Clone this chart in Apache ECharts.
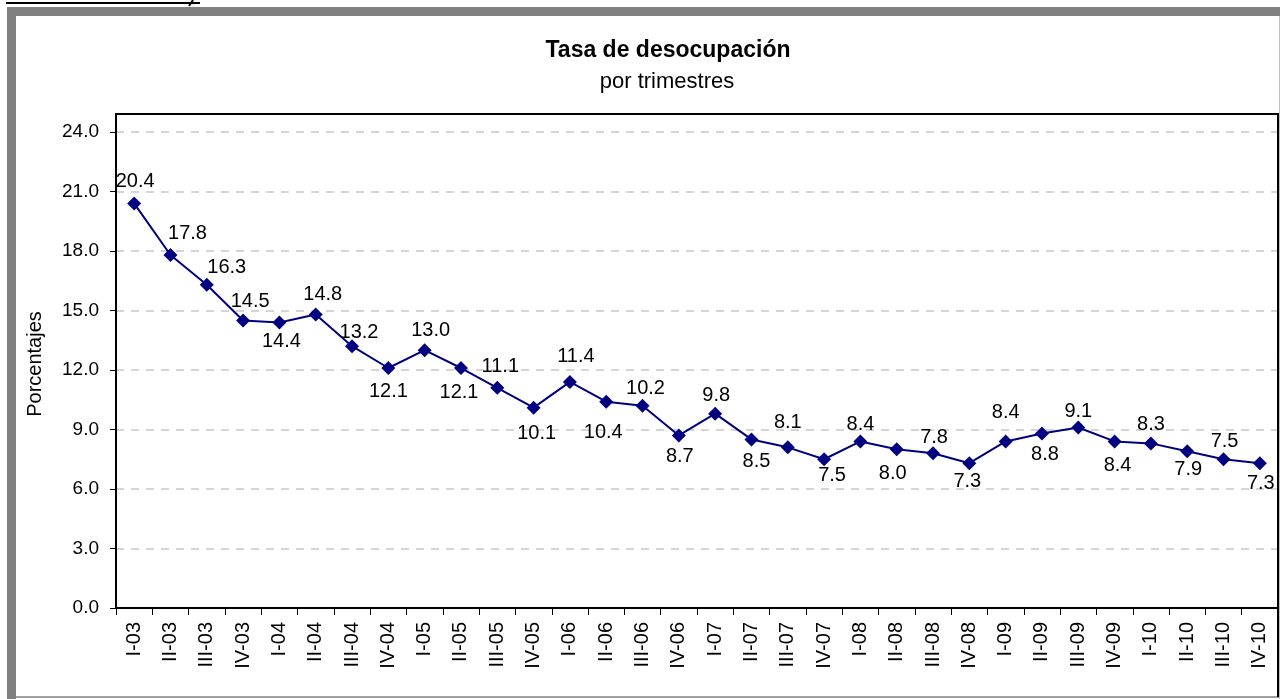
<!DOCTYPE html>
<html>
<head>
<meta charset="utf-8">
<script src="https://cdn.jsdelivr.net/npm/echarts@6/dist/echarts.min.js"></script>
<style>
html,body{margin:0;padding:0;background:#fff;}
#c{width:1280px;height:699px;}
</style>
</head>
<body>
<div id="c"></div>
<script>
var categories = ['I-03','II-03','III-03','IV-03','I-04','II-04','III-04','IV-04','I-05','II-05','III-05','IV-05','I-06','II-06','III-06','IV-06','I-07','II-07','III-07','IV-07','I-08','II-08','III-08','IV-08','I-09','II-09','III-09','IV-09','I-10','II-10','III-10','IV-10'];
var tasa = [20.4,17.8,16.3,14.5,14.4,14.8,13.2,12.1,13.0,12.1,11.1,10.1,11.4,10.4,10.2,8.7,9.8,8.5,8.1,7.5,8.4,8.0,7.8,7.3,8.4,8.8,9.1,8.4,8.3,7.9,7.5,7.3];
var yTicks = {min:0, max:24, interval:3};

// label placement (styling only): [dx, dy] of label centre from the marker
var labelOffsets = [[1,-22],[17,-21],[20,-17],[7,-19],[2,19],[7,-20],[7,-14],[0,23],[6,-20],[-2,24],[3,-21],[3,26],[6,-25],[-3,31],[3,-17],[1,21],[1,-18],[5,22],[0,-25],[8,16],[0,-17],[-4,24],[1,-16],[-2,18],[0,-29],[3,21],[0,-16],[3,24],[0,-19],[1,18],[1,-18],[1,20]];

var FONT = '"Liberation Sans", Arial, sans-serif';
var chart = echarts.init(document.getElementById('c'), null, {renderer:'canvas'});

var seriesData = tasa.map(function(v, i){
  return {
    value: v,
    label: {offset: labelOffsets[i]}
  };
});

chart.setOption({
  animation:false,
  backgroundColor:'#ffffff',
  grid:{left:116, right:2, top:132, bottom:91, containLabel:false},
  xAxis:{
    type:'category',
    data:categories,
    boundaryGap:true,
    axisLine:{show:true, lineStyle:{color:'#000', width:2}},
    axisTick:{show:true, interval:0, length:7, alignWithLabel:false, lineStyle:{color:'#000', width:1}},
    axisLabel:{interval:0, rotate:90, margin:14, color:'#000', fontSize:20, fontFamily:FONT},
    splitLine:{show:false}
  },
  yAxis:{
    type:'value',
    min:yTicks.min, max:yTicks.max, interval:yTicks.interval,
    axisLine:{show:true, lineStyle:{color:'#000', width:2}},
    axisTick:{show:true, length:6, lineStyle:{color:'#000', width:1}},
    axisLabel:{margin:17, color:'#000', fontSize:19, fontFamily:FONT,
      formatter:function(v){return v.toFixed(1);}},
    splitLine:{show:true, lineStyle:{color:'#c8c8c8', width:1.5, type:[8,7]}}
  },
  series:[{
    type:'line',
    data:seriesData,
    symbol:'diamond',
    symbolSize:14,
    lineStyle:{color:'#000080', width:2},
    itemStyle:{color:'#000080'},
    label:{
      show:true,
      position:'inside',
      align:'center',
      verticalAlign:'middle',
      color:'#000',
      fontSize:20,
      fontFamily:FONT,
      formatter:function(p){return p.value.toFixed(1);}
    },
    z:5
  }],
  graphic:[
    {type:'rect', shape:{x:7, y:7, width:1273, height:9}, style:{fill:'#808080'}, silent:true},
    {type:'rect', shape:{x:7, y:7, width:9, height:692}, style:{fill:'#808080'}, silent:true},
    {type:'line', shape:{x1:16, y1:697, x2:1280, y2:697}, style:{stroke:'#a0a0a0', lineWidth:2}, silent:true},
    {type:'line', shape:{x1:1279.5, y1:16, x2:1279.5, y2:699}, style:{stroke:'#c0c0c0', lineWidth:1}, silent:true},
    {type:'polyline', shape:{points:[[116,132],[116,114],[1278,114],[1278,697]]}, style:{stroke:'#000', lineWidth:2, fill:null}, silent:true, z:10},
    {type:'line', shape:{x1:6, y1:3, x2:200, y2:3}, style:{stroke:'#000', lineWidth:2}, silent:true},
    {type:'line', shape:{x1:193, y1:0, x2:189, y2:6}, style:{stroke:'#000', lineWidth:2}, silent:true},
    {type:'text', x:668, y:51, style:{text:'Tasa de desocupación', font:'bold 23px ' + FONT, fill:'#000', align:'center', verticalAlign:'middle'}, silent:true},
    {type:'text', x:667, y:82, style:{text:'por trimestres', font:'22px ' + FONT, fill:'#000', align:'center', verticalAlign:'middle'}, silent:true},
    {type:'text', x:35, y:364, rotation:Math.PI/2, style:{text:'Porcentajes', font:'20px ' + FONT, fill:'#000', align:'center', verticalAlign:'middle'}, silent:true}
  ]
});
</script>
</body>
</html>
